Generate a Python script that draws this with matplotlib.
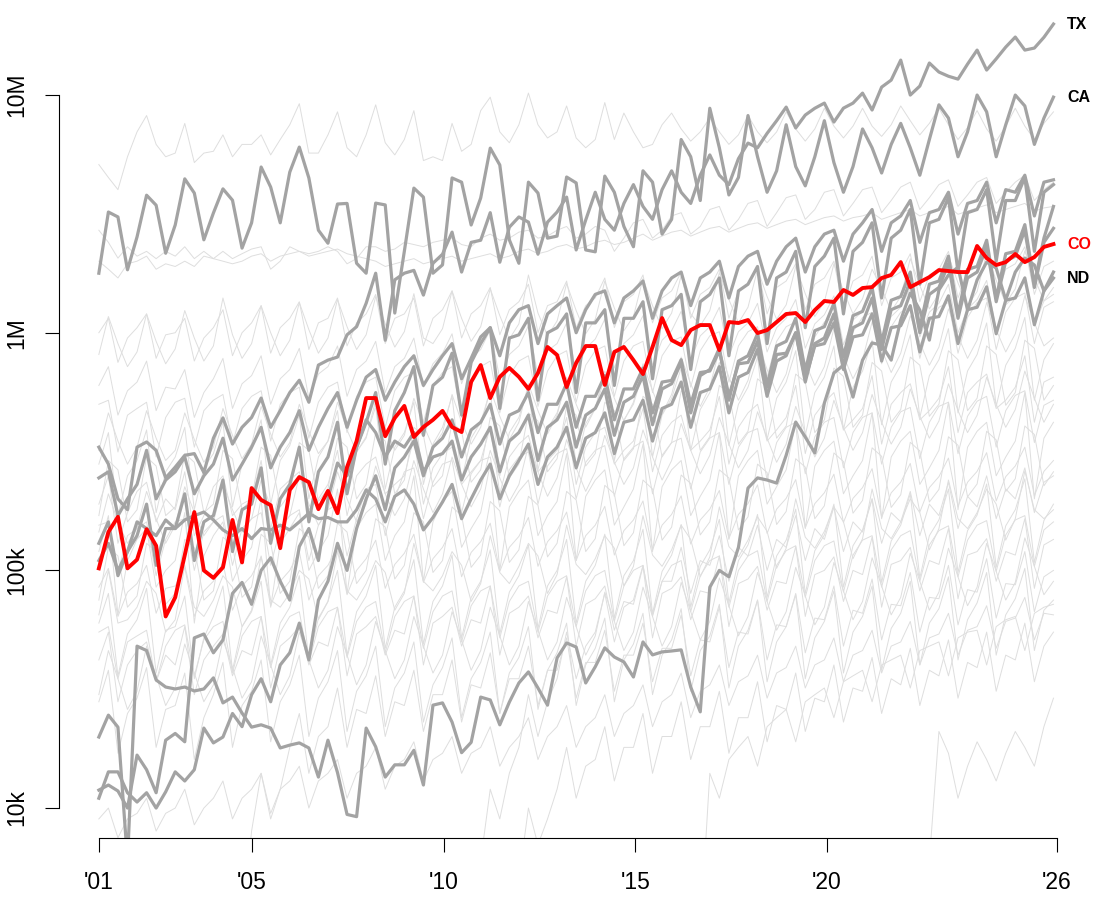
import numpy as np
import matplotlib
matplotlib.use('Agg')
import matplotlib.pyplot as plt

plt.rcParams['font.family'] = ['Liberation Sans', 'DejaVu Sans']

N = np.nan

# quarterly values, in thousands, 101 quarters from 2001
co = [102, 145, 168, 102, 111, 149, 127, 64, 77, 116,
      176, 100, 93, 103, 163, 108, 222, 198, 188, 124,
      218, 247, 235, 181, 216, 174, 272, 350, 531, 531,
      367, 438, 492, 364, 401, 430, 469, 401, 382, 621,
      731, 531, 652, 711, 652, 580, 677, 871, 806, 591,
      746, 879, 879, 603, 830, 871, 767, 670, 871, 1153,
      931, 887, 1026, 1077, 1077, 845, 1109, 1099, 1131, 997,
      1026, 1109, 1199, 1210, 1109, 1245, 1360, 1347, 1513, 1442,
      1542, 1556, 1698, 1750, 1982, 1556, 1633, 1714, 1835, 1818,
      1800, 1800, 2317, 2061, 1927, 1982, 2143, 1982, 2081, 2296, 2360]

tx = [330, 280, 200, 180, 330, 347, 320, 245, 272, 305, 310, 258,
      360, 438, 340, 400, 440, 531, 400, 470, 560, 631, 510, 731,
      767, 790, 980, 1060, 1330, 1780, 930,
      1670, 1780, 1830, 1440, 1960, 2140, 2650, 1800, 2400, 2450, 3200,
      1980, 2780, 3070, 2920, 2140, 2920, 3220, 3720, 2230, 2980, 3900,
      3000, 2700, 3500, 4200, 3400, 3000, 4000, 4800, 3900, 3500, 4600,
      5600, 4600, 4200, 5400,
      6280, 6000, 6900, 7800, 8900, 7270, 8240, 8800, 9250, 7700, 8810,
      9250, 10190, 8650, 10800, 11560, 14030, 10000, 10910, 13640, 12500,
      12000, 11670, 13500, 15460, 12740, 14200, 15920, 17540, 15460, 15770,
      17500, 19900]

ca = [1780, 3220, 3070, 1840, 2530, 3790, 3440, 2160, 2840, 4440, 3870, 2460,
      3190, 4030, 3610, 2270, 2900, 4980, 4100, 2900, 4740, 6040, 4480, 2700,
      2380, 3480, 3500, 1960, 1780, 3510, 3450, 1210, 2200, 4060, 3720, 1780,
      1930, 4480, 4300, 2840, 3690, 5980, 5080, 2460, 1960, 4300, 3870, 2500,
      2550, 4520, 4270, 2230, 2190, 4560, 3900,
      2800, 2300, 4800, 4300, 2600, 3000, 6500, 5500, 3600, 8800, 6000, 3800,
      4500, 8200, 5500, 3900, 4800, 7500, 5000, 4150, 5500, 7800, 5200, 3900,
      5000, 7200, 6000, 4700, 6200, 7600, 6000, 4600, 6500, 9100, 8000, 5500,
      7000, 10000, 8500, 5500, 7500, 10000, 9000, 6200, 8000, 9800]

nd = [19.9, 24.6, 21.9, 6.0, 48, 46, 34.6, 32.3, 31.7, 32.3,
      31.1, 31.7, 35.3, 27.7, 29.3, 25.1, 21.9, 22.4, 21.7, 17.9,
      18.4, 18.8, 17.9, 13.5, 19.3, 14.1, 9.4, 9.2, 21.7, 18.1,
      13.5, 15.2, 15.2, 17.5, 12.5, 27.1, 27.7, 23.0, 17.1, 18.9,
      29.3, 28.5, 22.4, 27.9, 33.6, 37.4, 32.0, 27.1, 42.8, 49.5,
      47.6, 33.6, 39.3, 47.2, 43.2, 41.2, 35.6, 50, 44.1, 45.4,
      45.8, 46.3, 32.3, 25.4, 85, 100, 94, 125, 222, 245,
      240, 233, 305, 421, 364, 312, 506, 677, 731, 536,
      767, 906, 887, 767, 1131, 1469, 1245, 931, 1513, 1750,
      1888, 1245, 1667, 1982, 1871, 1374, 1800, 2061, 1927, 1500, 1698]

gray_a = [245, 260, 170, 200, 230, 320, 200, 240, 260, 300, 210, 250,
          280, 360, 240, 280, 330, 400, 270, 330, 380, 470, 320, 400,
          480, 560, 400, 520, 650, 700, 520, 620, 720, 800, 600, 700,
          800, 900, 640, 780, 960, 1050, 800, 1100, 1250, 1300, 900, 1200,
          1300, 1400, 1000, 1250, 1450, 1500, 1100, 1400, 1500, 1650, 1150, 1500,
          1700, 1800, 1300, 1700, 1800, 2000, 1400, 1900, 2100, 2200, 1600, 2000,
          2300, 2500, 1800, 2300, 2600, 2700, 2000, 2600, 2900, 3300, 2200, 2900,
          3100, 3600, 2400, 3200, 3300, 3900, 2600, 3500, 3600, 4300, 2900, 4000,
          3900, 4600, 3100, 4300, 4400]

gray_b = [130, 160, 95, 120, 140, 190, 105, 150, 150, 210, 110, 160,
          170, 240, 120, 180, 190, 270, 130, 200, 230, 330, 160, 260,
          300, 420, 210, 330, 420, 560, 280, 470, 560, 720, 370, 600,
          650, 820, 450, 750, 900, 1050, 480, 950, 980, 1150, 520, 1000,
          1050, 1200, 560, 1100, 1100, 1250, 600, 1150, 1150, 1350, 640, 1250,
          1300, 1450, 700, 1350, 1450, 1700, 800, 1500, 1600, 1900, 900, 1700,
          1800, 2200, 1050, 1900, 2100, 2500, 1200, 2200, 2400, 2900, 1400, 2500,
          2700, 3300, 1600, 2900, 3000, 3700, 1800, 3200, 3300, 4000, 2000, 3600,
          3600, 4500, 2200, 3900, 4200]

gray_c = [110, 130, 100, 120, 160, 150, 140, 163, 150, 163, 170, 176,
          163, 148, 140, 150, 136, 150, 148, 155, 148, 160, 174, 165,
          167, 160, 160, 180, 218, 200, 160, 205, 218, 190, 148, 167,
          194, 230, 165, 200, 240, 280, 200, 250, 290, 340, 230, 300,
          330, 400, 270, 360, 380, 460, 310, 420, 430, 520, 350, 480,
          500, 620, 400, 560, 580, 720, 460, 650, 680, 850, 540, 760,
          800, 1000, 620, 900, 950, 1200, 720, 1050, 1100, 1400, 850, 1250,
          1300, 1650, 1000, 1450, 1550, 1950, 1150, 1700, 1800, 2300, 1350, 2000,
          2100, 2700, 1550, 2400, 2750]

gray_d = [11.9, 12.5, 11.8, 10, 16.7, 14.5, 11.6, 19.3, 20.6, 19, 52, 54,
          45, 51, 80, 89, 72, 100, 113, 90, 75, 126, 150, 110,
          200, 283, 250, 330, 430, 380, 300, 350, 330, 380, 260, 300,
          310, 350, 240, 300, 340, 400, 260, 350, 380, 450, 290, 400,
          430, 510, 330, 450, 480, 580, 370, 510, 540, 660, 410, 580,
          610, 750, 460, 660, 700, 860, 520, 760, 800, 990, 600, 880,
          920, 1150, 690, 1020, 1060, 1330, 790, 1180, 1230, 1550, 910, 1370,
          1420, 1800, 1050, 1600, 1650, 2100, 1200, 1850, 1900, 2450, 1400, 2150,
          2200, 2850, 1600, 2500, 3400]

gray_e = [11, 14.2, 14.2, 11.6, 10.6, 11.6, 10.0, 11.7, 14.2, 13.0, 14.5, 21.7,
          18.8, 19.9, 25, 22, 30, 35, 28, 40, 45, 60, 42, 75,
          90, 130, 100, 150, 200, 250, 180, 270, 300, 350, 250, 330,
          360, 430, 300, 390, 420, 500, 340, 450, 470, 560, 380, 500,
          500, 610, 400, 540, 540, 660, 430, 580, 580, 710, 460, 620,
          630, 770, 500, 680, 690, 840, 540, 740, 750, 920, 590, 810,
          820, 1000, 640, 880, 900, 1100, 700, 960, 980, 1200, 760, 1050,
          1070, 1300, 830, 1150, 1170, 1430, 900, 1250, 1280, 1560, 990, 1370,
          1400, 1700, 1080, 1500, 1800]

# background states
light_lines = [
    [5100, 4500, 4000, 5500, 7000, 8200, 6200, 5500, 5700, 7600, 5200, 5700,
     5800, 6800, 5500, 6200, 6200, 6800, 5600, 6500, 7500, 9200, 5700, 5700,
     6800, 8500, 6000, 5500, 6800, 9100, 6300, 5600, 6500, 8600, 5300, 5500,
     5300, 7600, 5800, 6200, 8600, 9800, 7000, 6300, 7500, 10200, 7500, 6600,
     7000, 9000, 6600, 6000, 6500, 9300, 6500, 8400, 7000, 6000, 6200, 7500,
     8400, 7200, 6400, 7000, 8000, 7000, 6200, 6800, 8200, 7000, 6300, 7000,
     8500, 7200, 6400, 7200, 8800, 7400, 6600, 7400, 8800, 7400, 6700, 7500,
     9000, 7800, 6800, 7600, 8800, 7500, 6500, 7300, 8600, 7200, 6400, 7400,
     8800, 7400, 6500, 7600, 8500],
    [2700, 2400, 2060, 2300, 2100, 2200, 2050, 2200, 2100, 2300, 2050, 2200,
     2050, 2200, 2050, 2150, 2250, 2300, 1850, 2000, 2300, 2200, 2150, 2200,
     2300, 2200, 1950, 2050, 2300, 2300, 2200, 2250, 2400, 2350, 2300, 2400,
     2450, 2500, 2350, 2300, 2500, 2600, 2450, 2500, 2650, 2700, 2500, 2550,
     2700, 2800, 2500, 2600, 2800, 2700, 2200, 2500, 2900, 3000, 2500, 2700,
     3100, 3200, 2600, 2800, 3300, 3400, 2700, 3000, 3500, 3600, 2800, 3200,
     3700, 3800, 3000, 3300, 3900, 4000, 3100, 3500, 4000, 4100, 3200, 3600,
     4100, 4300, 3300, 3700, 4200, 4400, 3400, 3800, 4300, 4500, 3500, 3900,
     4300, 4600, 3600, 4000, 4300],
    [2000, 1850, 1700, 1950, 2000, 2100, 1850, 1950, 1900, 2000, 1900, 2100,
     2050, 2000, 1950, 2000, 2100, 2150, 2000, 2100, 2150, 2200, 2100, 2150,
     2200, 2250, 2150, 2100, 2050, 2000, 1900, 1950, 2000, 2050, 1950, 2000,
     2050, 2100, 2000, 2050, 2100, 2150, 2050, 2100, 2200, 2250, 2150, 2200,
     2300, 2350, 2250, 2300, 2400, 2450, 2350, 2400, 2500, 2600, 2450, 2550,
     2650, 2700, 2550, 2650, 2750, 2800, 2650, 2750, 2850, 2900, 2750, 2850,
     2950, 3000, 2850, 2950, 3050, 3100, 2950, 3050, 3100, 3200, 3000, 3100,
     3200, 3300, 3100, 3200, 3300, 3400, 3150, 3250, 3350, 3450, 3200, 3300,
     3400, 3500, 3250, 3350, 3400],
    [1000, 1150, 750, 950, 1050, 1200, 780, 980, 1000, 1150, 760, 950,
     1050, 1250, 800, 1000, 1100, 1300, 820, 1050, 1150, 1350, 850, 1100,
     1150, 1400, 880, 1100, 1200, 1450, 900, 1150, 1200, 1400, 880, 1150,
     1250, 1500, 950, 1200, 1300, 1550, 980, 1250, 1350, 1600, 1000, 1300,
     1350, 1650, 1050, 1300, 1400, 1700, 1050, 1350, 1450, 1750, 1100, 1400,
     1500, 1800, 1150, 1450, 1550, 1850, 1150, 1500, 1600, 1900, 1200, 1550,
     1650, 1950, 1250, 1600, 1700, 2000, 1250, 1650, 1750, 2100, 1300, 1700,
     1800, 2150, 1350, 1750, 1850, 2200, 1400, 1800, 1900, 2250, 1400, 1850,
     1950, 2300, 1450, 1900, 2000],
    [810, 1170, 900, 720, 830, 1200, 920, 740, 855, 1240, 950, 760,
     880, 1400, 980, 780, 900, 1300, 1000, 800, 930, 1340, 1030, 820,
     950, 1380, 1060, 850, 980, 1420, 1090, 870, 1010, 1460, 950, 900,
     1040, 1500, 1150, 920, 1060, 1530, 1180, 940, 1090, 1750, 1210, 970,
     1120, 1610, 1240, 990, 1140, 1650, 1270, 1020, 1170, 1690, 1300, 1040,
     1210, 1740, 1200, 1070, 1240, 1790, 1380, 1100, 1280, 1850, 1420, 1140,
     1310, 1900, 1460, 1170, 1350, 1950, 1500, 1200, 1390, 1850, 1540, 1230,
     1420, 2050, 1580, 1260, 1460, 2110, 1620, 1300, 1490, 2160, 1660, 1330,
     1530, 2210, 1700, 1360, 1550],
    [600, 720, 450, 570, 620, 760, 470, 590, 580, 700, 440, 560,
     640, 780, 480, 610, 660, 800, 500, 640, 700, 860, 530, 670,
     720, 880, 540, 700, 760, 920, 560, 720, 780, 950, 590, 740,
     820, 990, 610, 780, 850, 1030, 640, 810, 880, 1070, 660, 840,
     900, 1100, 680, 860, 940, 1140, 710, 900, 980, 1180, 730, 930,
     1020, 1230, 770, 970, 1060, 1280, 800, 1010, 1100, 1330, 830, 1050,
     1150, 1380, 860, 1090, 1190, 1430, 890, 1130, 1230, 1480, 920, 1170,
     1280, 1540, 960, 1220, 1330, 1600, 1000, 1260, 1380, 1660, 1030, 1310,
     1430, 1720, 1070, 1360, 1450],
    [500, 520, 315, 450, 480, 510, 300, 440, 510, 530, 330, 470,
     520, 550, 340, 480, 540, 570, 350, 500, 560, 590, 360, 510,
     590, 620, 380, 540, 620, 650, 400, 570, 650, 680, 420, 600,
     680, 720, 440, 620, 720, 760, 460, 660, 760, 800, 490, 690,
     800, 840, 510, 730, 840, 880, 540, 760, 880, 920, 560, 800,
     920, 960, 590, 840, 970, 1010, 620, 880, 1010, 1060, 650, 920,
     1060, 1110, 680, 960, 1110, 1160, 710, 1010, 1160, 1220, 740, 1060,
     1220, 1280, 780, 1110, 1280, 1340, 820, 1160, 1340, 1400, 850, 1220,
     1400, 1470, 900, 1280, 1350],
    [320, 460, 350, 280, 330, 470, 360, 290, 320, 460, 355, 285,
     330, 480, 370, 295, 340, 490, 375, 300, 345, 500, 385, 310,
     350, 510, 390, 315, 360, 520, 400, 320, 370, 530, 410, 330,
     380, 550, 420, 340, 400, 580, 445, 355, 420, 610, 470, 375,
     450, 650, 500, 400, 480, 690, 530, 425, 510, 740, 570, 455,
     550, 790, 610, 490, 590, 850, 650, 520, 630, 910, 700, 560,
     670, 970, 750, 600, 720, 1040, 800, 640, 770, 1110, 850, 680,
     820, 1180, 910, 730, 870, 1260, 970, 780, 930, 1340, 1030, 830,
     990, 1430, 1100, 880, 950],
    [280, 380, 170, 250, 290, 390, 175, 260, 300, 400, 180, 270,
     310, 420, 185, 280, 320, 430, 190, 290, 335, 450, 200, 300,
     350, 470, 210, 315, 365, 490, 220, 330, 380, 510, 230, 340,
     400, 540, 240, 360, 420, 570, 250, 380, 440, 590, 265, 395,
     460, 620, 275, 415, 480, 650, 290, 430, 500, 680, 300, 450,
     530, 710, 320, 475, 560, 750, 335, 500, 590, 790, 355, 530,
     620, 840, 370, 560, 650, 880, 390, 590, 690, 930, 410, 620,
     730, 980, 440, 660, 770, 1040, 460, 690, 810, 1100, 490, 730,
     860, 1160, 520, 770, 900],
    [170, 290, 265, 160, 180, 300, 275, 170, 185, 310, 285, 175,
     190, 320, 295, 180, 200, 330, 305, 185, 210, 345, 320, 195,
     220, 360, 330, 200, 230, 380, 350, 210, 240, 400, 370, 225,
     250, 420, 385, 235, 265, 440, 405, 245, 280, 460, 425, 260,
     295, 490, 450, 275, 310, 510, 470, 290, 325, 540, 500, 300,
     345, 570, 525, 320, 365, 600, 555, 340, 385, 640, 590, 360,
     405, 670, 620, 380, 430, 710, 655, 400, 450, 750, 690, 420,
     475, 790, 730, 445, 500, 840, 770, 470, 530, 880, 810, 495,
     560, 930, 860, 520, 600],
    [190, 250, 130, 175, 215, 235, 160, 200, 180, 260, 140, 170,
     225, 250, 170, 190, 200, 290, 150, 220, 240, 260, 180, 200,
     230, 320, 170, 250, 280, 300, 210, 230, 250, 360, 190, 270,
     310, 330, 230, 260, 290, 400, 210, 300, 340, 370, 260, 290,
     320, 440, 230, 330, 380, 400, 280, 320, 350, 480, 260, 370,
     420, 450, 320, 350, 390, 540, 280, 400, 460, 500, 350, 390,
     440, 600, 310, 450, 510, 560, 390, 430, 480, 660, 340, 500,
     560, 610, 430, 470, 530, 720, 380, 560, 620, 670, 480, 520,
     590, 800, 420, 620, 650],
    [145, 210, 160, 130, 150, 215, 165, 130, 155, 225, 175, 140,
     160, 230, 180, 145, 165, 240, 185, 150, 170, 250, 190, 155,
     180, 260, 200, 160, 190, 275, 210, 170, 200, 290, 220, 175,
     210, 300, 230, 185, 220, 320, 245, 195, 230, 335, 260, 205,
     245, 355, 270, 215, 260, 370, 285, 230, 270, 390, 300, 240,
     290, 415, 320, 255, 305, 440, 340, 270, 320, 465, 360, 285,
     340, 490, 380, 300, 360, 520, 400, 320, 380, 550, 420, 340,
     400, 580, 445, 360, 425, 610, 470, 380, 450, 650, 500, 400,
     475, 690, 530, 420, 500],
    [155, 160, 98, 140, 150, 160, 95, 135, 160, 165, 100, 145,
     160, 170, 105, 150, 165, 175, 105, 150, 170, 180, 110, 155,
     180, 190, 115, 165, 220, 230, 140, 200, 260, 270, 165, 235,
     280, 290, 175, 255, 290, 300, 185, 265, 300, 315, 190, 275,
     310, 325, 200, 285, 320, 335, 205, 295, 330, 350, 210, 305,
     345, 360, 220, 315, 360, 380, 230, 330, 380, 395, 240, 345,
     400, 420, 255, 365, 420, 440, 270, 380, 440, 460, 280, 400,
     465, 485, 295, 420, 490, 510, 310, 445, 515, 540, 330, 470,
     545, 570, 345, 495, 520],
    [120, 170, 65, 110, 135, 150, 85, 100, 110, 175, 60, 115,
     140, 160, 90, 110, 125, 200, 70, 130, 150, 175, 100, 120,
     140, 220, 80, 150, 175, 190, 110, 140, 160, 250, 90, 160,
     195, 215, 125, 150, 175, 280, 100, 185, 215, 240, 140, 170,
     195, 310, 110, 205, 240, 265, 155, 185, 220, 340, 120, 225,
     265, 290, 170, 205, 240, 380, 135, 250, 290, 320, 190, 225,
     265, 420, 150, 275, 320, 350, 210, 250, 290, 460, 165, 300,
     350, 385, 230, 270, 320, 510, 180, 330, 385, 420, 250, 300,
     350, 560, 200, 360, 420],
    [75, 125, 115, 70, 78, 130, 120, 72, 80, 135, 125, 75,
     82, 138, 127, 77, 85, 142, 130, 80, 90, 150, 138, 84,
     95, 158, 145, 88, 100, 165, 152, 92, 105, 175, 160, 98,
     110, 185, 170, 103, 116, 195, 178, 108, 122, 205, 188, 114,
     130, 215, 198, 120, 136, 228, 210, 127, 144, 240, 220, 134,
     152, 252, 232, 141, 160, 265, 245, 148, 168, 280, 258, 156,
     177, 295, 272, 165, 187, 312, 287, 174, 197, 328, 302, 184,
     208, 346, 318, 194, 219, 365, 336, 204, 231, 385, 354, 215,
     243, 405, 373, 227, 260],
    [85, 102, 64, 81, 88, 105, 66, 84, 86, 103, 64, 82,
     90, 108, 68, 86, 95, 114, 71, 90, 100, 120, 75, 95,
     105, 126, 79, 100, 112, 134, 84, 106, 118, 142, 89, 112,
     125, 150, 94, 119, 132, 158, 99, 125, 139, 167, 104, 132,
     147, 176, 110, 140, 155, 186, 116, 147, 163, 196, 122, 155,
     172, 206, 129, 163, 181, 217, 136, 172, 191, 229, 143, 181,
     201, 241, 151, 191, 212, 254, 159, 201, 223, 268, 167, 212,
     235, 282, 176, 223, 248, 297, 186, 235, 261, 313, 196, 248,
     275, 330, 206, 261, 290],
    [65, 100, 60, 62, 70, 90, 80, 55, 62, 105, 70, 64,
     75, 95, 85, 58, 68, 115, 75, 70, 80, 100, 92, 62,
     74, 120, 82, 75, 88, 110, 98, 68, 80, 130, 90, 82,
     95, 120, 105, 74, 88, 140, 98, 88, 104, 130, 115, 80,
     96, 155, 106, 96, 112, 140, 124, 86, 104, 170, 116, 104,
     122, 155, 135, 94, 114, 185, 126, 114, 134, 168, 146, 102,
     124, 200, 138, 124, 146, 185, 160, 112, 136, 220, 150, 136,
     160, 200, 175, 122, 150, 240, 165, 150, 175, 220, 190, 134,
     165, 262, 180, 165, 180],
    [60, 80, 36, 54, 62, 84, 37, 56, 58, 78, 35, 52,
     64, 86, 38, 58, 67, 90, 40, 60, 70, 95, 42, 63,
     74, 100, 44, 67, 78, 105, 47, 70, 82, 111, 49, 74,
     86, 116, 52, 77, 90, 122, 54, 81, 95, 128, 57, 86,
     100, 135, 60, 90, 105, 142, 63, 95, 110, 149, 66, 99,
     116, 156, 70, 104, 122, 164, 73, 110, 128, 172, 77, 115,
     134, 181, 80, 121, 141, 190, 85, 127, 148, 200, 89, 133,
     155, 210, 93, 140, 163, 220, 98, 147, 171, 231, 103, 154,
     180, 243, 108, 162, 190],
    [55, 58, 35, 50, 53, 56, 34, 48, 56, 59, 36, 51,
     58, 61, 37, 53, 61, 64, 39, 55, 64, 67, 41, 58,
     67, 70, 43, 61, 70, 74, 45, 64, 74, 78, 47, 67,
     78, 82, 50, 71, 82, 86, 52, 74, 86, 90, 55, 78,
     90, 95, 58, 82, 95, 100, 61, 86, 100, 105, 64, 90,
     105, 110, 67, 95, 110, 115, 70, 100, 115, 121, 74, 105,
     121, 127, 77, 110, 127, 133, 81, 116, 134, 140, 85, 122,
     140, 147, 90, 128, 147, 154, 94, 134, 155, 162, 99, 141,
     163, 170, 104, 148, 160],
    [42, 55, 28, 40, 46, 50, 34, 44, 40, 58, 30, 42,
     48, 54, 36, 46, 44, 64, 32, 48, 52, 58, 40, 50,
     48, 70, 36, 54, 58, 64, 44, 56, 54, 78, 40, 60,
     64, 70, 48, 62, 60, 86, 44, 66, 70, 78, 52, 68,
     66, 94, 48, 72, 76, 86, 56, 74, 72, 104, 52, 80,
     84, 94, 62, 82, 80, 115, 58, 88, 92, 104, 68, 90,
     88, 126, 64, 96, 100, 114, 74, 100, 96, 138, 70, 106,
     110, 125, 82, 110, 106, 150, 76, 116, 120, 136, 90, 120,
     116, 165, 84, 128, 135],
    [30, 46, 35, 26, 31, 48, 36, 27, 32, 49, 37, 28,
     33, 51, 39, 29, 34, 53, 40, 30, 36, 55, 42, 32,
     38, 58, 44, 33, 40, 61, 46, 35, 42, 64, 48, 37,
     44, 67, 51, 38, 46, 70, 53, 40, 48, 74, 56, 42,
     50, 77, 58, 44, 53, 81, 61, 46, 55, 85, 64, 48,
     58, 89, 67, 51, 61, 93, 71, 53, 64, 98, 74, 56,
     67, 103, 78, 59, 70, 108, 82, 62, 74, 113, 86, 65,
     77, 118, 90, 68, 81, 124, 94, 71, 85, 130, 99, 75,
     89, 137, 104, 79, 90],
    [28, 38, 17, 25, 29, 39, 18, 26, 27, 37, 16, 24,
     30, 41, 18, 27, 31, 42, 19, 28, 33, 44, 20, 29,
     34, 46, 21, 31, 36, 48, 22, 32, 37, 50, 23, 33,
     39, 52, 24, 35, 41, 55, 25, 37, 43, 58, 26, 38,
     45, 60, 27, 40, 47, 63, 28, 42, 49, 66, 30, 44,
     51, 69, 31, 46, 53, 72, 32, 48, 56, 75, 34, 50,
     58, 79, 35, 52, 61, 82, 37, 55, 64, 86, 38, 57,
     66, 90, 40, 60, 69, 94, 42, 62, 73, 98, 44, 65,
     76, 102, 46, 68, 75],
    [9, 10, 7.5, 9, 9.5, 11, 8, 9.5, 10, 12, 8.5, 10,
     11, 13, 9, 11, 12, 14, 9.5, 12, 13, 15, 10, 13,
     14, 16, 11, 14, 15, 18, 12, 15, 16, 19, 13, 16,
     17, 20, 14, 17, 18, 22, 15, 18, 20, 24, 16, 20,
     22, 27, 18, 22, 24, 30, 20, 25, 27, 33, 22, 28,
     30, 37, 24, 31, 33, 40, 27, 34, 36, 44, 29, 37,
     39, 48, 32, 40, 42, 52, 34, 44, 46, 56, 37, 48,
     50, 61, 40, 52, 54, 66, 44, 56, 58, 71, 47, 61,
     63, 77, 51, 66, 65],
    [N] * 15 + [3,
     8, 14, 9, 12, 18, 25, 14, 20, 22, 32, 18, 26,
     25, 36, 20, 28, 27, 38, 21, 30, 30, 42, 23, 33,
     32, 45, 25, 35, 35, 48, 27, 38, 38, 52, 29, 41,
     41, 56, 31, 44, 44, 60, 34, 47, 47, 65, 36, 51,
     50, 70, 39, 55, 54, 75, 42, 59, 58, 80, 45, 63,
     62, 86, 48, 68, 66, 92, 51, 72, 71, 98, 55, 77,
     76, 105, 59, 83, 81, 112, 63, 88, 87, 120, 67, 94, 100],
    [N] * 39 + [3,
     6, 12, 9, 14, 18, 30, 20, 28, 35, 55, 35, 48,
     55, 80, 50, 70, 75, 105, 65, 90, 90, 125, 80, 110,
     105, 140, 90, 125, 115, 155, 100, 135, 125, 170, 110, 150,
     135, 185, 120, 160, 145, 200, 130, 175, 160, 215, 140, 190,
     170, 235, 150, 205, 185, 250, 165, 220, 200, 270, 175, 235, 250],
    [N] * 43 + [3,
     5, 10, 7, 9, 12, 18, 11, 15, 16, 22, 13, 18,
     18, 25, 14, 20, 20, 28, 16, 22, 22, 31, 17, 24,
     24, 34, 19, 27, 26, 37, 21, 29, 28, 40, 23, 32,
     31, 43, 25, 35, 33, 47, 27, 38, 36, 51, 29, 41,
     39, 55, 31, 44, 42, 60, 34, 48, 55],
    [N] * 63 + [3,
     14, 11, 16, 18, 20, 15, 22, 24, 26, 19, 28, 30,
     32, 24, 34, 36, 38, 28, 40, 42, 44, 32, 46, 48,
     50, 36, 52, 55, 56, 40, 58, 62, 64, 46, 66, 70, 72],
    [N] * 87 + [6, 21, 17, 11, 15, 19, 16, 13, 17, 21, 18, 15, 22, 29],
]

dark_lines = [tx, ca, gray_a, gray_b, gray_c, gray_d, gray_e, nd]
labels = [('TX', tx, 'black'), ('CA', ca, 'black'),
          ('CO', co, 'red'), ('ND', nd, 'black')]

tick_years = [2001, 2005, 2010, 2015, 2020, 2026]
tick_text = ["'01", "'05", "'10", "'15", "'20", "'26"]

quarters = 2001 + np.arange(101) * 91 / 365.25

fig = plt.figure(figsize=(11, 9), dpi=100)
ax = fig.add_axes([59 / 1100, 62 / 900, (1092 - 59) / 1100, 838 / 900])
ax.set_yscale('log')

for vals in light_lines:
    ax.plot(quarters[:len(vals)], np.array(vals, dtype=float) * 1e3,
            color='#dedede', lw=0.7)
for vals in dark_lines:
    ax.plot(quarters[:len(vals)], np.array(vals, dtype=float) * 1e3,
            color='#a3a3a3', lw=2.3)
ax.plot(quarters[:len(co)], np.array(co, dtype=float) * 1e3, color='red', lw=2.8)

for name, vals, col in labels:
    ax.annotate(name, xy=(quarters[len(vals) - 1], vals[-1] * 1e3),
                xytext=(10, 0), textcoords='offset points', ha='left',
                va='center', fontsize=11.5, fontweight='bold', color=col,
                annotation_clip=False)

ax.set_xlim(1999.96, 2026.92)
ax.set_ylim(10 ** 3.874, 10 ** 7.40)

for side in ['top', 'right']:
    ax.spines[side].set_visible(False)
ax.spines['left'].set_bounds(1e4, 1e7)
ax.spines['bottom'].set_bounds(2001, 2026)
ax.spines['left'].set_linewidth(0.8)
ax.spines['bottom'].set_linewidth(0.8)

ax.set_xticks(tick_years)
ax.set_xticklabels(tick_text)
ax.set_yticks([1e4, 1e5, 1e6, 1e7])
ax.set_yticklabels(['10k', '100k', '1M', '10M'])
ax.yaxis.set_minor_locator(matplotlib.ticker.NullLocator())
ax.tick_params(axis='both', length=10, width=0.8, labelsize=16.5)
ax.tick_params(axis='x', pad=14)
ax.tick_params(axis='y', pad=12, labelrotation=90)
for lab in ax.get_yticklabels():
    lab.set_va('center')

fig.savefig('out.png', dpi=100)
